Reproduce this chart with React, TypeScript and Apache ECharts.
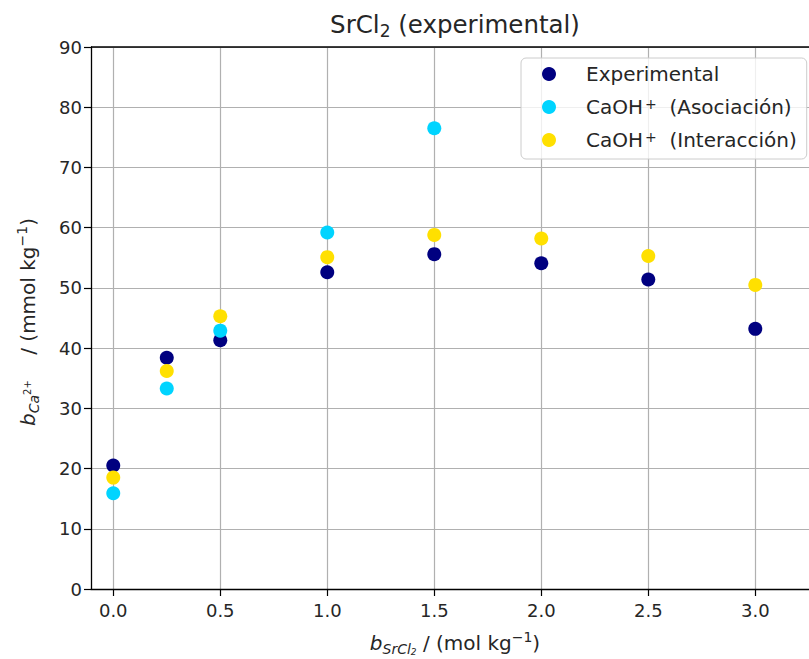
import React, { useEffect, useRef } from "react";
import * as echarts from "echarts";

const xValues = [0, 0.25, 0.5, 1.0, 1.5, 2.0, 2.5, 3.0];
const experimental = [20.5, 38.4, 41.3, 52.6, 55.6, 54.1, 51.4, 43.2];
const asociacion = [15.9, 33.3, 42.9, 59.2, 76.5, null, null, null];
const interaccion = [18.5, 36.2, 45.3, 55.1, 58.8, 58.2, 55.3, 50.5];
const xTicks = [0, 0.5, 1.0, 1.5, 2.0, 2.5, 3.0];
const seriesNames = ["Experimental", "CaOH+ (Asociación)", "CaOH+ (Interacción)"];
const seriesColors = ["#000080", "#00D4FF", "#FFE000"];

const FONT = "DejaVu Sans";
const TXT = "#262626";

function pairs(vals: (number | null)[]) {
  return xValues.map((x, i) => [x, vals[i]]).filter((p) => p[1] !== null);
}

export default function App() {
  const ref = useRef<HTMLDivElement>(null);
  useEffect(() => {
    if (!ref.current) return;
    const chart = echarts.init(ref.current, null, { renderer: "svg" });
    const gridLeft = 91;
    const gridTop = 47;
    const gridW = 718;
    const gridH = 542;
    const option: any = {
      animation: false,
      backgroundColor: "#ffffff",
      textStyle: { fontFamily: FONT },
      grid: { left: gridLeft, top: gridTop, width: gridW, height: gridH, containLabel: false },
      xAxis: {
        type: "value",
        min: -0.104,
        max: 3.251,
        axisLine: { show: true, onZero: false, lineStyle: { color: "#000", width: 1.3 } },
        axisTick: { show: true, customValues: xTicks, length: 7, lineStyle: { color: "#000", width: 1.2 } },
        axisLabel: {
          customValues: xTicks,
          formatter: (v: number) => v.toFixed(1),
          fontSize: 18,
          color: TXT,
          margin: 12,
          fontFamily: FONT,
        },
        splitLine: { show: true, lineStyle: { color: "#b0b0b0", width: 1.2 } },
      },
      yAxis: {
        type: "value",
        min: 0,
        max: 90,
        interval: 10,
        axisLine: { show: true, onZero: false, lineStyle: { color: "#000", width: 1.3 } },
        axisTick: { show: true, length: 7, lineStyle: { color: "#000", width: 1.2 } },
        axisLabel: { fontSize: 18, color: TXT, margin: 9, fontFamily: FONT },
        splitLine: { show: true, lineStyle: { color: "#b0b0b0", width: 1.2 } },
      },
      legend: {
        orient: "vertical",
        left: 521,
        top: 58,
        padding: [6, 10, 9, 21],
        itemGap: 13,
        itemWidth: 40,
        itemHeight: 14,
        icon: "circle",
        backgroundColor: "rgba(255,255,255,0.8)",
        borderColor: "#cccccc",
        borderWidth: 1,
        borderRadius: 5,
        data: seriesNames,
        formatter: (name: string) => "{pad|}" + name.replace("CaOH+ ", "CaOH{sup|+}  "),
        textStyle: {
          fontSize: 20,
          color: TXT,
          fontFamily: FONT,
          lineHeight: 20,
          rich: {
            pad: { width: 12, fontSize: 20, lineHeight: 20 },
            sup: { fontSize: 14, verticalAlign: "top", lineHeight: 14, color: TXT, fontFamily: FONT, padding: [0, 0, 0, 2] },
          },
        },
        z: 10,
      },
      series: seriesNames.map((name, i) => ({
        name,
        type: "scatter",
        symbol: "circle",
        symbolSize: 14,
        itemStyle: { color: seriesColors[i], opacity: 1 },
        data: pairs([experimental, asociacion, interaccion][i]),
        z: 2 + i,
      })),
      graphic: [
        {
          type: "line",
          shape: { x1: gridLeft, y1: gridTop, x2: gridLeft + gridW, y2: gridTop },
          style: { stroke: "#000", lineWidth: 1.3 },
          z: 5,
        },
        {
          type: "text",
          x: 455,
          y: 24,
          style: {
            text: "{n|SrCl}{sub|2}{n| (experimental)}",
            align: "center",
            verticalAlign: "middle",
            fontSize: 24.5,
            fontFamily: FONT,
            fill: TXT,
            rich: {
              n: { fontSize: 24.5, fontFamily: FONT, fill: TXT, lineHeight: 30 },
              sub: { fontSize: 17, verticalAlign: "bottom", lineHeight: 16, fill: TXT, fontFamily: FONT },
            },
          },
        },
        {
          type: "text",
          x: 455,
          y: 643,
          style: {
            text: "{it|b}{its|SrCl}{its2|2}{n| / (mol kg}{sup|−1}{n|)}",
            align: "center",
            verticalAlign: "middle",
            fill: TXT,
            fontSize: 20,
            fontFamily: FONT,
            rich: {
              it: { fontSize: 20, fontStyle: "italic", fontFamily: FONT, fill: TXT, lineHeight: 26 },
              its: { fontSize: 14, fontStyle: "italic", fontFamily: FONT, fill: TXT, verticalAlign: "bottom", lineHeight: 14 },
              its2: { fontSize: 9, fontStyle: "italic", fontFamily: FONT, fill: TXT, verticalAlign: "bottom", lineHeight: 7 },
              n: { fontSize: 20, fontFamily: FONT, fill: TXT, lineHeight: 26 },
              sup: { fontSize: 14, fontFamily: FONT, fill: TXT, verticalAlign: "top", lineHeight: 14 },
            },
          },
        },
        {
          type: "text",
          x: 28,
          y: 322,
          rotation: Math.PI / 2,
          style: {
            text: "{it|b}{its|Ca}{sup2|2+}{n|    / (mmol kg}{sup|−1}{n|)}",
            align: "center",
            verticalAlign: "middle",
            fill: TXT,
            fontSize: 20,
            fontFamily: FONT,
            rich: {
              it: { fontSize: 20, fontStyle: "italic", fontFamily: FONT, fill: TXT, lineHeight: 26 },
              its: { fontSize: 14, fontStyle: "italic", fontFamily: FONT, fill: TXT, verticalAlign: "bottom", lineHeight: 14 },
              sup2: { fontSize: 10, fontFamily: FONT, fill: TXT, verticalAlign: "middle", lineHeight: 10, padding: [0, 0, 2, 0] },
              n: { fontSize: 20, fontFamily: FONT, fill: TXT, lineHeight: 26 },
              sup: { fontSize: 14, fontFamily: FONT, fill: TXT, verticalAlign: "top", lineHeight: 14 },
            },
          },
        },
      ],
    };
    chart.setOption(option);
    return () => chart.dispose();
  }, []);
  return <div ref={ref} style={{ position: "fixed", left: 0, top: 0, width: 809, height: 659 }} />;
}
